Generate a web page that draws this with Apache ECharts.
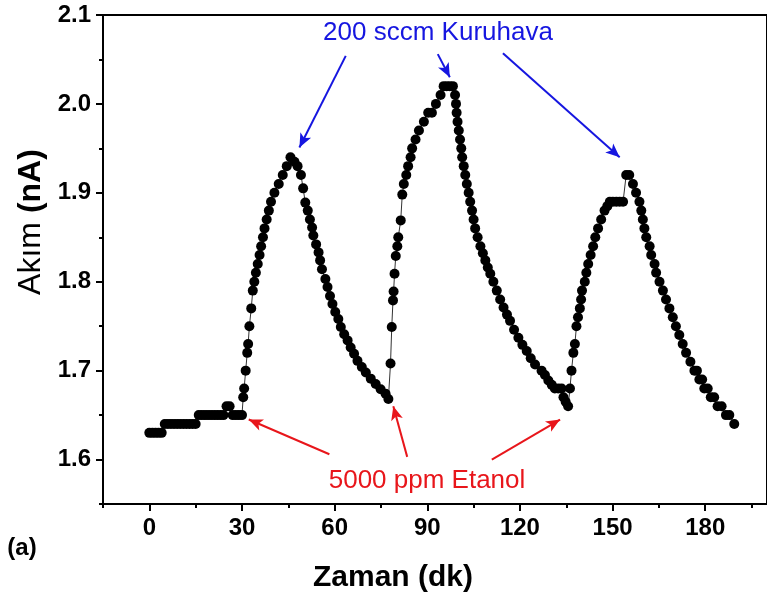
<!DOCTYPE html>
<html><head><meta charset="utf-8">
<script src="https://cdn.jsdelivr.net/npm/echarts@6/dist/echarts.min.js"></script>
<style>html,body{margin:0;padding:0;background:#fff}#c{width:767px;height:605px}</style>
</head><body><div id="c"></div>
<script>
// ---- data (time in dk, current in nA) ----
const baseline = [[0,1.63],[1,1.63],[2,1.63],[3,1.63],[4,1.63],[5,1.64],[6,1.64],[7,1.64],[8,1.64],[9,1.64],[10,1.64],[11,1.64],[12,1.64],[13,1.64],[14,1.64],[15,1.64],[16,1.65],[17,1.65],[18,1.65],[19,1.65],[20,1.65],[21,1.65],[22,1.65],[23,1.65],[24,1.65],[25,1.66],[26,1.66],[27,1.65],[28,1.65],[29,1.65],[30,1.65]];
const rise1 = [[30.4,1.67],[30.7,1.68],[31.2,1.70],[31.7,1.72],[32.0,1.73],[32.4,1.75],[33.0,1.77],[33.5,1.79],[34.0,1.80],[34.5,1.81],[35.1,1.82],[35.7,1.83],[36.2,1.84],[36.8,1.85],[37.3,1.86],[38.0,1.87],[38.7,1.88],[39.4,1.89],[40.5,1.90],[41.9,1.91],[43.2,1.92],[44.5,1.93],[45.7,1.94]];
const fall1 = [[47.0,1.935],[48.0,1.93],[49.1,1.92],[49.8,1.905],[50.5,1.889],[51.3,1.88],[52.0,1.87],[52.7,1.861],[53.1,1.852],[54.0,1.842],[54.8,1.833],[55.3,1.824],[55.9,1.814],[57.0,1.803],[57.7,1.794],[58.5,1.784],[59.3,1.775],[60.2,1.766],[61.2,1.758],[62.0,1.749],[63.1,1.741],[64.2,1.734],[65.2,1.726],[66.3,1.719],[67.4,1.711],[68.8,1.704],[70.1,1.698],[71.7,1.691],[73.3,1.685],[74.9,1.679],[76.5,1.674],[77.4,1.668]];
const rise2 = [[78.1,1.708],[78.5,1.749],[78.9,1.779],[79.1,1.789],[79.4,1.809],[79.8,1.829],[80.3,1.84],[80.6,1.85],[81.4,1.869],[81.9,1.898],[82.4,1.91],[83.2,1.92],[83.8,1.93],[84.6,1.94],[85.1,1.95],[86.2,1.96],[87.3,1.97],[88.9,1.98],[90.3,1.99],[91.5,1.99],[92.8,2.00],[94.3,2.01],[95.3,2.02],[96.3,2.02],[97.3,2.02],[98.3,2.02]];
const fall2 = [[99.0,2.01],[99.3,2.00],[99.5,1.99],[99.8,1.98],[100.2,1.97],[100.6,1.96],[101.0,1.95],[101.3,1.94],[101.8,1.93],[102.3,1.92],[102.8,1.91],[103.4,1.90],[103.9,1.89],[104.5,1.88],[105.0,1.87],[105.5,1.86],[106.3,1.85],[107.2,1.84],[108.0,1.832],[108.8,1.824],[109.6,1.816],[110.4,1.809],[111.4,1.80],[112.5,1.79],[113.6,1.78],[114.7,1.771],[115.8,1.763],[116.8,1.756],[118.1,1.746],[119.5,1.737],[120.8,1.729],[122.2,1.722],[123.5,1.714],[124.9,1.707],[127.0,1.70],[128.1,1.695],[129.2,1.689],[130.3,1.684],[131.3,1.68],[132.4,1.68],[133.5,1.68],[134.1,1.67],[134.8,1.665],[135.6,1.66]];
const rise3 = [[136.2,1.68],[136.7,1.70],[137.3,1.72],[137.8,1.73],[138.3,1.75],[138.8,1.76],[139.4,1.77],[139.8,1.78],[140.1,1.79],[141.0,1.80],[141.5,1.81],[142.1,1.82],[142.9,1.83],[143.7,1.84],[144.4,1.85],[145.3,1.86],[146.3,1.87],[147.4,1.88],[148.3,1.885],[149.1,1.89],[150.1,1.89],[151.2,1.89],[152.3,1.89],[153.4,1.89],[154.4,1.92],[155.4,1.92]];
const fall3 = [[156.6,1.91],[157.6,1.90],[158.7,1.89],[159.3,1.88],[159.8,1.87],[160.3,1.86],[160.9,1.85],[162.0,1.84],[162.5,1.83],[163.6,1.82],[164.1,1.81],[165.2,1.80],[166.3,1.79],[167.3,1.78],[168.4,1.77],[169.5,1.76],[170.5,1.75],[171.6,1.74],[172.7,1.73],[173.8,1.72],[175.2,1.71],[176.5,1.70],[177.3,1.70],[178.1,1.69],[179.0,1.69],[179.7,1.68],[180.8,1.68],[181.8,1.67],[182.9,1.67],[184.0,1.66],[185.3,1.66],[186.7,1.65],[187.8,1.65],[189.4,1.64]];

const xMajorTicks = [0,30,60,90,120,150,180];
const xMinorTicks = [-15,15,45,75,105,135,165,195];
const yMajorTicks = [1.6,1.7,1.8,1.9,2.0,2.1];
const yMinorTicks = [1.55,1.65,1.75,1.85,1.95,2.05];

const xTitle = 'Zaman (dk)';
const yTitle = 'Akım {b|(nA)}';
const gasLabel = '200 sccm Kuruhava';
const ethLabel = '5000 ppm Etanol';
const panelLabel = '(a)';

// annotation arrows (data coordinates: [tail],[tip])
const blueArrows = [[[63.6,2.054],[48.6,1.951]],[[93.4,2.056],[97.3,2.030]],[[114.5,2.057],[152.3,1.940]]];
const redArrows = [[[58.3,1.606],[32.2,1.645]],[[83.5,1.603],[79.0,1.660]],[[110.9,1.600],[133.0,1.645]]];

const series = [].concat(baseline, rise1, fall1, rise2, fall2, rise3, fall3);

const FONT = "'Liberation Sans', Arial, Helvetica, sans-serif";
const chart = echarts.init(document.getElementById('c'), null, {renderer:'canvas'});

function arrowData(list){
  return list.map(a => [{coord:a[0]},{coord:a[1]}]);
}

const gridPos = {left:103, top:15, width:667, height:489};
chart.setOption({
  animation:false,
  backgroundColor:'#fff',
  grid:{...gridPos, show:true, borderColor:'#000', borderWidth:2, containLabel:false},
  xAxis:[{
    type:'value', min:-15, max:200, position:'bottom',
    axisLine:{show:true, onZero:false, lineStyle:{color:'#000', width:2}},
    axisTick:{show:true, inside:false, length:7, lineStyle:{color:'#000', width:2}, customValues:xMajorTicks},
    axisLabel:{show:true, margin:12, customValues:xMajorTicks, color:'#000', fontSize:24, fontWeight:'bold', fontFamily:FONT},
    splitLine:{show:false}
  },{
    type:'value', min:-15, max:200, position:'bottom', gridIndex:0,
    axisLine:{show:false, onZero:false},
    axisTick:{show:true, inside:false, length:4, lineStyle:{color:'#000', width:2}, customValues:xMinorTicks},
    axisLabel:{show:false},
    splitLine:{show:false}
  }],
  yAxis:[{
    type:'value', min:1.55, max:2.1, position:'left',
    axisLine:{show:true, onZero:false, lineStyle:{color:'#000', width:2}},
    axisTick:{show:true, inside:false, length:7, lineStyle:{color:'#000', width:2}, customValues:yMajorTicks},
    axisLabel:{show:true, margin:12, customValues:yMajorTicks, formatter:v=>v.toFixed(1), color:'#000', fontSize:24, fontWeight:'bold', fontFamily:FONT},
    splitLine:{show:false}
  },{
    type:'value', min:1.55, max:2.1, position:'left', gridIndex:0,
    axisLine:{show:false, onZero:false},
    axisTick:{show:true, inside:false, length:4, lineStyle:{color:'#000', width:2}, customValues:yMinorTicks},
    axisLabel:{show:false},
    splitLine:{show:false}
  }],
  series:[{
    type:'line', xAxisIndex:0, yAxisIndex:0,
    data:series,
    symbol:'circle', symbolSize:10,
    itemStyle:{color:'#000'},
    lineStyle:{color:'#333', width:1},
    z:3
  },{
    type:'line', xAxisIndex:0, yAxisIndex:0, data:[], silent:true,
    markLine:{silent:true, symbol:['none','arrow'], symbolSize:[9,14], label:{show:false},
      lineStyle:{color:'#1616e0', width:2, type:'solid'}, data:arrowData(blueArrows)}
  },{
    type:'line', xAxisIndex:0, yAxisIndex:0, data:[], silent:true,
    markLine:{silent:true, symbol:['none','arrow'], symbolSize:[9,14], label:{show:false},
      lineStyle:{color:'#e8161b', width:2, type:'solid'}, data:arrowData(redArrows)}
  }],
  graphic:[
    {type:'text', x:438, y:33, style:{text:gasLabel, font:'26px '+FONT, fill:'#1616e0', align:'center', verticalAlign:'middle'}},
    {type:'text', x:427, y:481, style:{text:ethLabel, font:'26px '+FONT, fill:'#e8161b', align:'center', verticalAlign:'middle'}},
    {type:'text', x:393, y:578, style:{text:xTitle, font:'bold 30px '+FONT, fill:'#000', align:'center', verticalAlign:'middle'}},
    {type:'text', x:31, y:222, rotation:Math.PI/2, style:{text:yTitle, font:'32px '+FONT, fill:'#000', align:'center', verticalAlign:'middle', rich:{b:{font:'bold 32px '+FONT, fill:'#000'}}}},
    {type:'text', x:22, y:548, style:{text:panelLabel, font:'bold 24px '+FONT, fill:'#000', align:'center', verticalAlign:'middle'}}
  ]
});
</script></body></html>
